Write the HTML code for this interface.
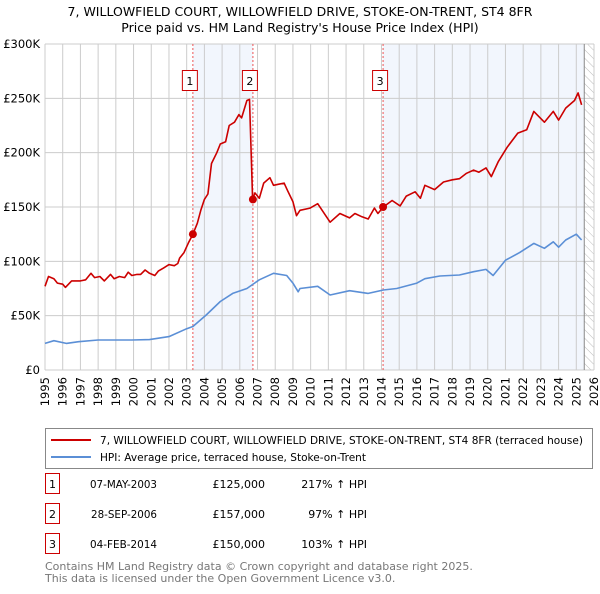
<!DOCTYPE html>
<html><head><meta charset="utf-8"><style>
body{margin:0;background:#fff;font-family:"DejaVu Sans","Liberation Sans",sans-serif;}
svg text{font-family:"DejaVu Sans","Liberation Sans",sans-serif;}
</style></head><body>
<svg id="c" width="600" height="590" viewBox="0 0 600 590" xmlns="http://www.w3.org/2000/svg">
<defs><pattern id="hatch" width="6" height="6" patternUnits="userSpaceOnUse" patternTransform="rotate(-45)"><line x1="0" y1="0" x2="0" y2="6" stroke="#bbb" stroke-width="1"/></pattern></defs>
<text x="300" y="16" text-anchor="middle" font-size="12.5">7, WILLOWFIELD COURT, WILLOWFIELD DRIVE, STOKE-ON-TRENT, ST4 8FR</text>
<text x="300" y="32" text-anchor="middle" font-size="12.5">Price paid vs. HM Land Registry's House Price Index (HPI)</text>
<g id="plot"></g>
<g>
<rect x="45.5" y="428.5" width="547" height="40" fill="#fff" stroke="#888"/>
<line x1="51" y1="440" x2="91" y2="440" stroke="#cc0000" stroke-width="2"/>
<text x="100" y="444" font-size="11" textLength="483" lengthAdjust="spacingAndGlyphs">7, WILLOWFIELD COURT, WILLOWFIELD DRIVE, STOKE-ON-TRENT, ST4 8FR (terraced house)</text>
<line x1="51" y1="457" x2="91" y2="457" stroke="#5b8fd6" stroke-width="2"/>
<text x="100" y="461" font-size="11" textLength="266" lengthAdjust="spacingAndGlyphs">HPI: Average price, terraced house, Stoke-on-Trent</text>
</g>
<g font-size="11">
<rect x="45.5" y="473.5" width="14" height="20" fill="#fff" stroke="#cc0000"/>
<text x="52.5" y="488" text-anchor="middle">1</text>
<text x="90" y="488" textLength="67" lengthAdjust="spacingAndGlyphs">07-MAY-2003</text>
<text x="265" y="488" text-anchor="end">£125,000</text>
<text x="367" y="488" text-anchor="end">217% ↑ HPI</text>
<rect x="45.5" y="503.5" width="14" height="20" fill="#fff" stroke="#cc0000"/>
<text x="52.5" y="518" text-anchor="middle">2</text>
<text x="91" y="518" textLength="66" lengthAdjust="spacingAndGlyphs">28-SEP-2006</text>
<text x="265" y="518" text-anchor="end">£157,000</text>
<text x="367" y="518" text-anchor="end">97% ↑ HPI</text>
<rect x="45.5" y="533.5" width="14" height="20" fill="#fff" stroke="#cc0000"/>
<text x="52.5" y="548" text-anchor="middle">3</text>
<text x="90" y="548" textLength="67" lengthAdjust="spacingAndGlyphs">04-FEB-2014</text>
<text x="265" y="548" text-anchor="end">£150,000</text>
<text x="367" y="548" text-anchor="end">103% ↑ HPI</text>
</g>
<text x="45" y="570" font-size="11" fill="#777">Contains HM Land Registry data © Crown copyright and database right 2025.</text>
<text x="45" y="582" font-size="11" fill="#777">This data is licensed under the Open Government Licence v3.0.</text>
</svg>
<script>
const yearTicks=[1995,1996,1997,1998,1999,2000,2001,2002,2003,2004,2005,2006,2007,2008,2009,2010,2011,2012,2013,2014,2015,2016,2017,2018,2019,2020,2021,2022,2023,2024,2025,2026];
const valueTicks=[0,50,100,150,200,250,300];
const valueTickLabels=["£0","£50K","£100K","£150K","£200K","£250K","£300K"];
const propYears=[1995.0,1995.2,1995.5,1995.7,1996.0,1996.15,1996.5,1997.0,1997.3,1997.6,1997.8,1998.1,1998.35,1998.7,1998.9,1999.2,1999.5,1999.7,1999.9,2000.2,2000.4,2000.65,2000.9,2001.2,2001.4,2001.7,2002.0,2002.3,2002.5,2002.6,2002.85,2003.1,2003.35,2003.6,2003.8,2004.0,2004.2,2004.4,2004.7,2004.9,2005.2,2005.4,2005.7,2005.95,2006.1,2006.4,2006.55,2006.72,2006.85,2007.1,2007.35,2007.7,2007.9,2008.2,2008.5,2008.7,2009.0,2009.2,2009.4,2009.97,2010.4,2011.1,2011.65,2012.2,2012.5,2012.9,2013.25,2013.6,2013.8,2014.1,2014.6,2015.05,2015.4,2015.9,2016.2,2016.45,2017.0,2017.5,2018.0,2018.4,2018.8,2019.2,2019.5,2019.9,2020.2,2020.6,2021.1,2021.7,2022.2,2022.6,2023.2,2023.7,2024.0,2024.4,2024.9,2025.1,2025.3];
const propValues=[77,86,84,80,79,76,82,82,83,89,85,86,82,88,84,86,85,90,87,88,88,92,89,87,91,94,97,96,98,103,108,117,125,135,147,157,162,190,200,208,210,225,228,235,232,248,249,157,163,158,172,177,170,171,172,165,155,142,147,149,153,136,144,140,144,141,139,149,144,150,156,151,160,164,158,170,166,173,175,176,181,184,182,186,178,192,205,218,221,238,228,238,230,241,248,255,244];
const hpiYears=[1995.0,1995.5,1996.2,1996.9,1998.0,1999.9,2000.9,2002.0,2003.0,2003.35,2004.1,2004.9,2005.6,2006.4,2007.1,2007.9,2008.65,2009.0,2009.3,2009.4,2010.4,2011.1,2012.2,2013.25,2014.1,2014.86,2016.0,2016.45,2017.3,2018.4,2019.2,2019.9,2020.3,2021.0,2021.8,2022.6,2023.2,2023.7,2024.0,2024.4,2025.0,2025.3];
const hpiValues=[24.5,27,24.5,26,27.6,27.6,28,30.7,38,40,50.6,63,70.5,75,83,89,87,80,72,75,77,69,73,70.5,73.6,75,80,84,86.5,87.4,90.5,92.6,87,101,108,116.5,112,118,113,119.6,125,119.6];
const saleYears=[2003.35,2006.74,2014.09];
const saleValues=[125,157,150];
const saleLabels=["1","2","3"];
const dataEndYear=2025.45;

const X0=45,X1=594,Y0=370,Y1=44;
const xs=y=>X0+(y-1995)*(X1-X0)/31;
const ys=v=>Y0-v*(Y0-Y1)/300;
const NS="http://www.w3.org/2000/svg";
const plot=document.getElementById('plot');
function mk(t,a){const e=document.createElementNS(NS,t);for(const k in a)e.setAttribute(k,a[k]);plot.appendChild(e);return e;}

let s1=mk('rect',{x:xs(saleYears[0]),y:Y1,width:xs(saleYears[1])-xs(saleYears[0]),height:Y0-Y1,fill:'#f2f6fd'});


let s2=mk('rect',{x:xs(saleYears[2]),y:Y1,width:xs(dataEndYear)-xs(saleYears[2]),height:Y0-Y1,fill:'#f2f6fd'});


let h=mk('rect',{x:xs(dataEndYear),y:Y1,width:X1-xs(dataEndYear),height:Y0-Y1,fill:'url(#hatch)'});



yearTicks.forEach(y=>{
  const l=mk('line',{x1:xs(y),x2:xs(y),y1:Y1,y2:Y0,stroke:'#cccccc','stroke-width':1});
  
  
  const t=mk('text',{x:0,y:0,'font-size':11.5,'text-anchor':'end',transform:`translate(${xs(y)+4},${Y0+7}) rotate(-90)`});
  t.textContent=y;
  
  
});
valueTicks.forEach((v,i)=>{
  const l=mk('line',{x1:X0,x2:X1,y1:ys(v),y2:ys(v),stroke:'#cccccc','stroke-width':1});
  
  
  const t=mk('text',{x:40,y:ys(v)+4,'font-size':11.5,'text-anchor':'end'});
  t.textContent=valueTickLabels[i];
  
  
});
let ex=mk('line',{x1:xs(dataEndYear),x2:xs(dataEndYear),y1:Y1,y2:Y0,stroke:'#888','stroke-width':1});



saleYears.forEach((y,i)=>{
  const l=mk('line',{x1:xs(y),x2:xs(y),y1:Y1,y2:Y0,stroke:'#ee5555','stroke-width':1,'stroke-dasharray':'2,2'});
  
  
  const b=mk('rect',{x:xs(y)-10.5,y:70.5,width:15,height:20,fill:'#fff',stroke:'#cc0000'});
  
  
  const t=mk('text',{x:xs(y)-3,y:85,'font-size':11,'text-anchor':'middle'});
  t.textContent=saleLabels[i];
  
  
});

function line(xsArr,vArr,col,name){
  const d=xsArr.map((y,i)=>(i?'L':'M')+xs(y).toFixed(1)+','+ys(vArr[i]).toFixed(1)).join('');
  const p=mk('path',{d:d,fill:'none',stroke:col,'stroke-width':1.6,'stroke-linejoin':'round'});
  
  
}
line(hpiYears,hpiValues,'#5b8fd6','hpi-line');
line(propYears,propValues,'#cc0000','property-price-line');
saleYears.forEach((y,i)=>{
  const c=mk('circle',{cx:xs(y),cy:ys(saleValues[i]),r:4,fill:'#cc0000'});
  
  
});
</script>
</body></html>
